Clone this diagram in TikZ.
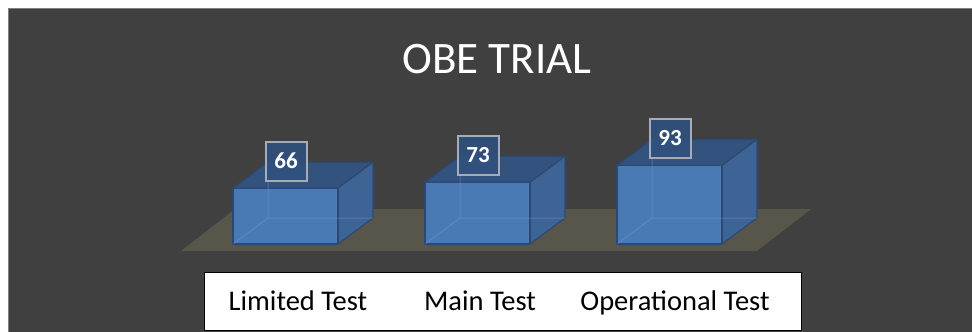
\documentclass[tikz,border=0pt]{standalone}
\usepackage{fontspec}
\setmainfont{Carlito}
\usetikzlibrary{positioning}
\definecolor{chartbg}{HTML}{404040}
\definecolor{floorcol}{HTML}{58564B}
\definecolor{barfront}{HTML}{4A7AB4}
\definecolor{barside}{HTML}{3E6495}
\definecolor{bartop}{HTML}{33537E}
\definecolor{baredge}{HTML}{2A4A75}
\definecolor{labelfill}{HTML}{30507E}
\definecolor{labeledge}{HTML}{A8ACB4}

\begin{document}
\begin{tikzpicture}[x=1pt,y=-1pt,
    valbox/.style={draw=labeledge, line width=2pt, fill=labelfill, fill opacity=0.9, draw opacity=1, text opacity=1,
        text=white, font=\fontsize{23}{23}\selectfont\bfseries, minimum width=41pt, minimum height=39pt, inner sep=0pt},
    legitem/.style={font=\fontsize{28.5}{28.5}\selectfont, anchor=base},
    baredges/.style={draw=baredge, line width=1.2pt, line join=round}]
    \useasboundingbox (0,0) rectangle (972,332);
    \fill[white] (0,0) rectangle (972,332);
    \draw[fill=chartbg, draw=gray, line width=1.2pt] (8.5,8.5) rectangle (975,335);
    \node [font=\fontsize{45}{45}\selectfont, text=white, anchor=base] (title) at (497,73) {OBE TRIAL};
    % floor
    \fill[floorcol] (181,251) -- (757,251) -- (811,209) -- (235,209) -- cycle;
    % bars
    \foreach \n/\x/\v in {lim/233/66, main/425/73, oper/617/93} {
        \pgfmathsetmacro\t{244-0.845*\v}
        \filldraw[baredges, fill=bartop] (\x,\t) -- ({\x+105},\t) -- ({\x+140},{\t-26}) -- ({\x+35},{\t-26}) -- cycle;
        \filldraw[baredges, fill=barside] ({\x+105},\t) -- ({\x+140},{\t-26}) -- ({\x+140},218) -- ({\x+105},244) -- cycle;
        \filldraw[baredges, fill=barfront] (\x,244) rectangle ({\x+105},\t);
        \draw[barfront!70!white, opacity=0.35, line width=1pt] (\x,244) -- ({\x+35},218) -- ({\x+140},218)
            ({\x+35},218) -- ({\x+35},{\t-26});
        \node [valbox] (\n-val) at ({\x+53},{\t-27}) {\v};
    }
    % legend
    \node [draw=black, fill=white, line width=1pt, minimum width=597pt, minimum height=58pt,
        anchor=north west, inner sep=0pt] (legend) at (204,272) {};
    \node [legitem] (leg-lim) at (298,310) {Limited Test};
    \node [legitem] (leg-main) at (480,310) {Main Test};
    \node [legitem] (leg-oper) at (675,310) {Operational Test};
\end{tikzpicture}
\end{document}
